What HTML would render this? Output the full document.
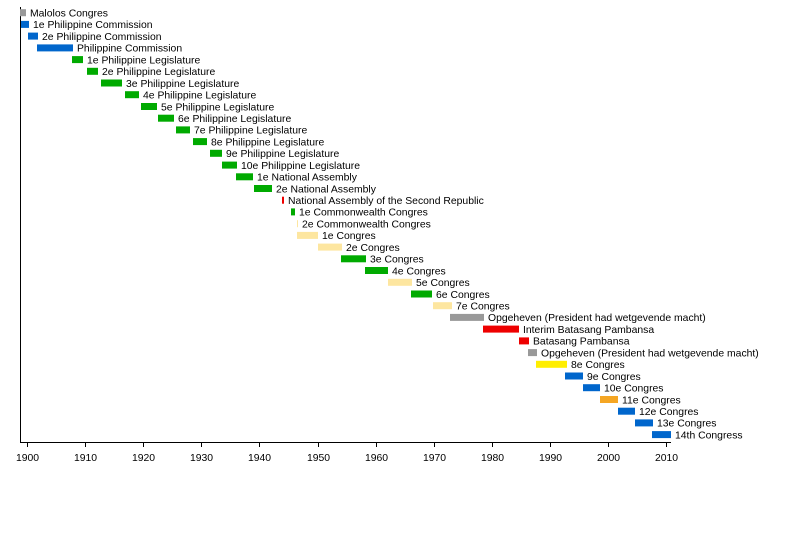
<!DOCTYPE html>
<html><head><meta charset="utf-8"><style>
html,body{margin:0;padding:0;background:#fff;}
svg{display:block;}
text{font-family:"Liberation Sans",Arial,sans-serif;font-size:10.4px;fill:#000;}
</style></head><body>
<svg width="800" height="542" viewBox="0 0 800 542" xmlns="http://www.w3.org/2000/svg">
<line x1="20.5" y1="7" x2="20.5" y2="442.5" stroke="#000" stroke-width="1"/>
<line x1="20" y1="442.5" x2="671" y2="442.5" stroke="#000" stroke-width="1"/>
<g stroke="#000" stroke-width="1">
<line x1="27.5" y1="442" x2="27.5" y2="447"/><line x1="85.5" y1="442" x2="85.5" y2="447"/><line x1="143.5" y1="442" x2="143.5" y2="447"/><line x1="201.5" y1="442" x2="201.5" y2="447"/><line x1="259.5" y1="442" x2="259.5" y2="447"/><line x1="318.5" y1="442" x2="318.5" y2="447"/><line x1="376.5" y1="442" x2="376.5" y2="447"/><line x1="434.5" y1="442" x2="434.5" y2="447"/><line x1="492.5" y1="442" x2="492.5" y2="447"/><line x1="550.5" y1="442" x2="550.5" y2="447"/><line x1="608.5" y1="442" x2="608.5" y2="447"/><line x1="666.5" y1="442" x2="666.5" y2="447"/>
</g>
<g text-anchor="middle">
<text x="27.5" y="461">1900</text><text x="85.5" y="461">1910</text><text x="143.5" y="461">1920</text><text x="201.5" y="461">1930</text><text x="259.5" y="461">1940</text><text x="318.5" y="461">1950</text><text x="376.5" y="461">1960</text><text x="434.5" y="461">1970</text><text x="492.5" y="461">1980</text><text x="550.5" y="461">1990</text><text x="608.5" y="461">2000</text><text x="666.5" y="461">2010</text>
</g>
<g id="rows"></g>
<script>
var G='#00aa00',B='#0066cc',Y='#fde6a0',R='#ee0000',Gr='#999999';
var d=[
[20,26,Gr,'Malolos Congres'],
[21,29,B,'1e Philippine Commission'],
[28,38,B,'2e Philippine Commission'],
[37,73,B,'Philippine Commission'],
[72,83,G,'1e Philippine Legislature'],
[87,98,G,'2e Philippine Legislature'],
[101,122,G,'3e Philippine Legislature'],
[125,139,G,'4e Philippine Legislature'],
[141,157,G,'5e Philippine Legislature'],
[158,174,G,'6e Philippine Legislature'],
[176,190,G,'7e Philippine Legislature'],
[193,207,G,'8e Philippine Legislature'],
[210,222,G,'9e Philippine Legislature'],
[222,237,G,'10e Philippine Legislature'],
[236,253,G,'1e National Assembly'],
[254,272,G,'2e National Assembly'],
[282,284,R,'National Assembly of the Second Republic'],
[291,295,G,'1e Commonwealth Congres'],
[297,298,Y,'2e Commonwealth Congres'],
[297,318,Y,'1e Congres'],
[318,342,Y,'2e Congres'],
[341,366,G,'3e Congres'],
[365,388,G,'4e Congres'],
[388,412,Y,'5e Congres'],
[411,432,G,'6e Congres'],
[433,452,Y,'7e Congres'],
[450,484,Gr,'Opgeheven (President had wetgevende macht)'],
[483,519,R,'Interim Batasang Pambansa'],
[519,529,R,'Batasang Pambansa'],
[528,537,Gr,'Opgeheven (President had wetgevende macht)'],
[536,567,'#ffee00','8e Congres'],
[565,583,B,'9e Congres'],
[583,600,B,'10e Congres'],
[600,618,'#f5a623','11e Congres'],
[618,635,B,'12e Congres'],
[635,653,B,'13e Congres'],
[652,671,B,'14th Congress']];
var ns='http://www.w3.org/2000/svg',g=document.getElementById('rows');
d.forEach(function(r,i){var y=12.7+i*11.72;
var rc=document.createElementNS(ns,'rect');rc.setAttribute('x',r[0]);rc.setAttribute('y',(y-3.5).toFixed(1));rc.setAttribute('width',r[1]-r[0]);rc.setAttribute('height',7);rc.setAttribute('fill',r[2]);g.appendChild(rc);
var t=document.createElementNS(ns,'text');t.setAttribute('x',r[1]+4);t.setAttribute('y',(y+3.8).toFixed(1));t.textContent=r[3];g.appendChild(t);});
</script>
</svg>
</body></html>
